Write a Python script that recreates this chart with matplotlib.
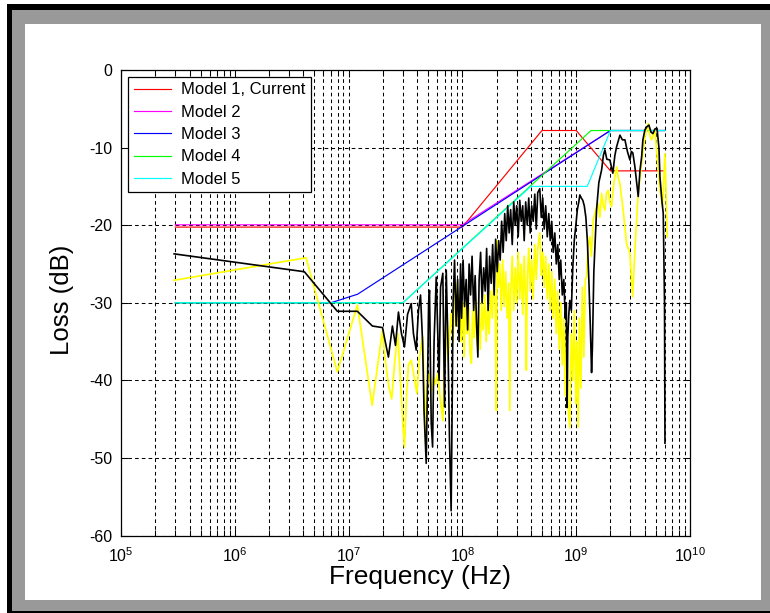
import matplotlib
matplotlib.use('Agg')
import matplotlib.pyplot as plt
import numpy as np
from matplotlib.patches import Rectangle

plt.rcParams['font.family'] = ['Liberation Sans', 'DejaVu Sans']
plt.rcParams['axes.unicode_minus'] = False
plt.rcParams['mathtext.default'] = 'regular'

# Model curves (frequency in Hz, loss in dB)
m1_f = [3e5, 1e8, 5e8, 1e9, 2e9, 6e9]
m1_db = [-20.25, -20.25, -7.8, -7.8, -13.0, -13.0]
m2_f = [3e5, 1e8, 2e9, 6e9]
m2_db = [-19.95, -19.95, -7.8, -7.8]
m3_f = [3e5, 7e6, 1.2e7, 2e9, 6e9]
m3_db = [-30.0, -30.0, -28.9, -7.8, -7.8]
m4_f = [3e5, 3e7, 1.35e9, 6e9]
m4_db = [-30.0, -30.0, -7.8, -7.8]
m5_f = [3e5, 3e7, 4e8, 1.25e9, 2e9, 6e9]
m5_db = [-30.0, -30.0, -15.0, -15.0, -7.8, -7.8]

black_logf = [5.467, 6.611, 6.901, 7.077, 7.209, 7.298, 7.315, 7.350, 7.385, 7.412,
              7.438, 7.465, 7.491, 7.518, 7.550, 7.570, 7.594, 7.614, 7.632, 7.650,
              7.663, 7.682, 7.694, 7.703, 7.711, 7.726, 7.738, 7.751, 7.770, 7.782,
              7.795, 7.808, 7.828, 7.843, 7.858, 7.874, 7.887, 7.901, 7.909, 7.918,
              7.931, 7.945, 7.958, 7.971, 7.984, 7.993, 8.006, 8.019, 8.033, 8.046,
              8.059, 8.072, 8.085, 8.099, 8.112, 8.125, 8.136, 8.147, 8.160, 8.173,
              8.187, 8.200, 8.213, 8.226, 8.239, 8.253, 8.266, 8.279, 8.292, 8.306,
              8.319, 8.332, 8.345, 8.358, 8.372, 8.385, 8.398, 8.411, 8.424, 8.438,
              8.451, 8.464, 8.477, 8.490, 8.504, 8.517, 8.530, 8.543, 8.556, 8.570,
              8.583, 8.596, 8.609, 8.622, 8.636, 8.649, 8.662, 8.680, 8.693, 8.706,
              8.719, 8.732, 8.746, 8.759, 8.772, 8.785, 8.798, 8.812, 8.825, 8.838,
              8.851, 8.864, 8.878, 8.891, 8.904, 8.913, 8.920, 8.926, 8.935, 8.944,
              8.957, 8.970, 8.983, 8.997, 9.010, 9.023, 9.032, 9.045, 9.058, 9.071,
              9.085, 9.098, 9.111, 9.124, 9.135, 9.142, 9.155, 9.179, 9.199, 9.223,
              9.239, 9.252, 9.269, 9.296, 9.322, 9.340, 9.355, 9.384, 9.406, 9.428,
              9.450, 9.472, 9.485, 9.498, 9.516, 9.545, 9.560, 9.575, 9.586, 9.604,
              9.622, 9.639, 9.657, 9.674, 9.692, 9.710, 9.727, 9.736, 9.754, 9.765,
              9.776, 9.780]
black_db = [-23.7, -26.0, -31.1, -31.1, -33.0, -33.2, -34.5, -37.0, -33.0, -35.5,
            -31.2, -34.0, -35.7, -31.5, -30.1, -34.0, -36.1, -31.0, -29.0, -35.0,
            -44.0, -50.7, -40.0, -30.0, -28.4, -45.5, -48.6, -35.0, -26.7, -33.0,
            -40.0, -28.0, -26.2, -43.4, -25.8, -36.0, -48.0, -56.8, -45.0, -30.0,
            -24.5, -33.0, -27.0, -35.0, -25.0, -32.0, -24.5, -30.5, -27.0, -33.5,
            -25.0, -29.0, -24.0, -31.0, -26.5, -33.0, -37.0, -27.0, -23.5, -30.0,
            -25.5, -28.5, -23.0, -31.0, -24.0, -27.5, -22.5, -29.0, -21.8, -26.0,
            -22.0, -24.5, -19.5, -23.5, -18.5, -22.0, -17.5, -21.0, -18.0, -22.5,
            -17.0, -20.0, -17.5, -21.5, -16.8, -19.5, -17.5, -22.0, -17.0, -20.0,
            -16.5, -21.0, -17.5, -19.5, -16.0, -20.5, -15.8, -15.3, -19.0, -16.5,
            -20.5, -17.5, -21.5, -18.5, -22.0, -19.5, -23.5, -21.0, -25.0, -22.5,
            -27.0, -24.5, -29.0, -27.0, -32.0, -30.0, -43.5, -34.4, -31.5, -29.7,
            -31.0, -25.5, -22.0, -20.0, -18.0, -17.0, -16.1, -16.5, -16.8, -17.5,
            -19.0, -22.0, -27.0, -33.0, -39.0, -36.0, -26.0, -18.0, -14.5, -12.9,
            -11.0, -10.3, -11.5, -11.6, -13.3, -11.0, -9.9, -8.4, -9.0, -9.0,
            -10.5, -11.6, -10.5, -10.7, -12.5, -16.3, -13.0, -11.2, -9.0, -7.7,
            -7.3, -7.1, -8.0, -8.2, -7.6, -7.5, -10.0, -13.8, -17.0, -18.5,
            -30.0, -48.1]

yellow_logf = [5.467, 6.626, 6.901, 7.077, 7.207, 7.298, 7.315, 7.350, 7.379, 7.403,
               7.432, 7.456, 7.478, 7.491, 7.509, 7.526, 7.550, 7.570, 7.600, 7.623,
               7.652, 7.667, 7.676, 7.689, 7.711, 7.729, 7.746, 7.764, 7.784, 7.803,
               7.828, 7.843, 7.858, 7.874, 7.887, 7.902, 7.918, 7.931, 7.946, 7.962,
               7.975, 7.989, 8.002, 8.015, 8.028, 8.041, 8.055, 8.068, 8.079, 8.090,
               8.103, 8.116, 8.129, 8.143, 8.156, 8.169, 8.182, 8.196, 8.209, 8.222,
               8.235, 8.248, 8.262, 8.275, 8.288, 8.298, 8.306, 8.314, 8.328, 8.341,
               8.354, 8.367, 8.380, 8.394, 8.407, 8.416, 8.424, 8.438, 8.451, 8.464,
               8.477, 8.490, 8.504, 8.517, 8.530, 8.543, 8.556, 8.562, 8.570, 8.583,
               8.596, 8.609, 8.622, 8.636, 8.649, 8.662, 8.680, 8.693, 8.706, 8.719,
               8.732, 8.746, 8.759, 8.772, 8.785, 8.798, 8.812, 8.825, 8.838, 8.851,
               8.864, 8.878, 8.891, 8.904, 8.917, 8.931, 8.944, 8.957, 8.970, 8.983,
               8.997, 9.006, 9.017, 9.028, 9.041, 9.054, 9.067, 9.080, 9.091, 9.102,
               9.120, 9.133, 9.149, 9.173, 9.193, 9.208, 9.223, 9.239, 9.252, 9.265,
               9.281, 9.296, 9.311, 9.331, 9.355, 9.371, 9.384, 9.413, 9.443, 9.472,
               9.496, 9.516, 9.545, 9.575, 9.604, 9.633, 9.648, 9.663, 9.692, 9.712,
               9.736, 9.759, 9.780, 9.800]
yellow_db = [-27.1, -24.2, -38.9, -30.3, -43.2, -33.5, -36.5, -40.5, -42.4, -38.0,
             -34.0, -40.0, -46.0, -48.6, -42.0, -38.0, -37.4, -39.0, -41.7, -37.0,
             -34.4, -42.0, -48.1, -41.0, -39.1, -41.5, -39.5, -40.5, -39.1, -42.0,
             -45.2, -38.0, -33.1, -37.5, -34.0, -31.4, -35.0, -28.0, -27.5, -33.0,
             -29.0, -35.0, -30.0, -37.0, -29.0, -34.0, -30.5, -36.5, -37.8, -31.0,
             -34.5, -29.5, -35.5, -31.0, -36.0, -30.0, -33.5, -29.0, -35.0, -30.5,
             -34.0, -28.5, -32.0, -27.0, -30.0, -43.9, -22.0, -28.0, -25.0, -31.0,
             -24.5, -30.5, -26.0, -32.0, -27.5, -43.9, -29.0, -24.0, -31.0, -25.5,
             -30.0, -23.5, -29.5, -25.0, -31.5, -24.0, -30.0, -38.7, -27.0, -23.0,
             -28.5, -24.5, -29.5, -22.5, -27.0, -23.0, -21.0, -26.5, -23.5, -28.0,
             -24.0, -29.5, -25.0, -31.0, -26.0, -32.0, -27.0, -34.0, -28.5, -36.0,
             -30.0, -38.0, -32.0, -42.0, -33.0, -44.0, -46.1, -34.0, -40.0, -31.0,
             -43.0, -35.0, -46.0, -32.0, -41.0, -28.0, -37.0, -27.0, -26.7, -23.0,
             -21.5, -24.0, -19.4, -18.0, -17.2, -19.0, -15.9, -17.5, -18.1, -16.0,
             -15.5, -17.0, -17.6, -14.5, -12.5, -14.0, -14.6, -18.1, -22.4, -23.7,
             -29.2, -23.2, -15.9, -12.0, -8.6, -6.9, -8.5, -9.0, -7.7, -11.2,
             -15.5, -17.6, -10.8, -21.5]

yticks = [0, -10, -20, -30, -40, -50, -60]
legend_labels = ['Model 1, Current', 'Model 2', 'Model 3', 'Model 4', 'Model 5']

fig = plt.figure(figsize=(7.7, 6.13), dpi=100)
W, H = 770.0, 613.0
# window frame: black edge, grey border, white inside
fig.patches.append(Rectangle((7 / W, 0), 763 / W, 609 / H, transform=fig.transFigure,
                             facecolor='black', edgecolor='none', zorder=-3))
fig.patches.append(Rectangle((12 / W, 2 / H), 758 / W, 601 / H, transform=fig.transFigure,
                             facecolor='#999999', edgecolor='none', zorder=-2))
fig.patches.append(Rectangle((25 / W, 13 / H), 736 / W, 576 / H, transform=fig.transFigure,
                             facecolor='white', edgecolor='none', zorder=-1))

ax = fig.add_axes([121 / W, 1 - 535.5 / H, 569 / W, 465.5 / H])
ax.set_facecolor('white')

lw = 0.85
ax.plot(m1_f, m1_db, color='#ff0000', lw=lw, label=legend_labels[0])
ax.plot(m2_f, m2_db, color='#ff00ff', lw=lw, label=legend_labels[1])
ax.plot(m3_f, m3_db, color='#0000ff', lw=lw, label=legend_labels[2])
ax.plot(m4_f, m4_db, color='#00ff00', lw=lw, label=legend_labels[3])
ax.plot(m5_f, m5_db, color='#00ffff', lw=lw, label=legend_labels[4])
ax.plot(10 ** np.array(yellow_logf), yellow_db, color='#ffff00', lw=1.25)
ax.plot(10 ** np.array(black_logf), black_db, color='black', lw=1.2)

ax.set_xscale('log')
ax.set_xlim(1e5, 1e10)
ax.set_ylim(-60, 0)
ax.set_yticks(yticks)
ax.set_yticklabels([str(v) for v in yticks])

ax.grid(True, which='both', axis='x', color='black', ls=(0, (3.5, 3)), lw=0.75)
ax.grid(True, which='major', axis='y', color='black', ls=(0, (3.5, 3)), lw=0.75)
ax.tick_params(which='both', direction='in', top=True, right=True, width=0.75,
               labelsize=11.5, colors='black')
ax.tick_params(which='major', length=5, pad=6)
ax.tick_params(which='minor', length=4)
ax.tick_params(axis='x', pad=8)
for s in ax.spines.values():
    s.set_linewidth(0.9)
    s.set_color('black')

leg = ax.legend(loc='upper left', bbox_to_anchor=(0.0128, 0.9856), borderaxespad=0,
                fontsize=12, fancybox=False, framealpha=1, edgecolor='black',
                borderpad=0.34, labelspacing=0.44, handlelength=2.2, handletextpad=0.65)
leg.get_frame().set_linewidth(0.9)

fig.text(420 / W, 1 - 577 / H, 'Frequency (Hz)', fontsize=19, ha='center', va='center')
fig.text(62 / W, 1 - 300 / H, 'Loss (dB)', fontsize=18.5, ha='center', va='center',
         rotation=90)

fig.savefig('out.png', dpi=100)
